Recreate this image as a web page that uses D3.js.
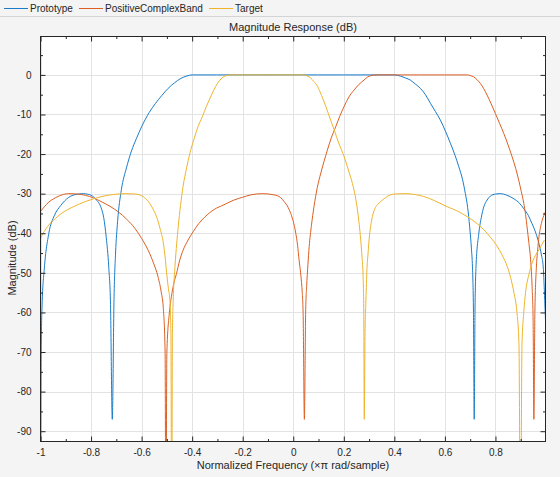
<!DOCTYPE html>
<html>
<head>
<meta charset="utf-8">
<script src="https://cdn.jsdelivr.net/npm/d3@7"></script>
<style>
  body { margin: 0; background: #f4f4f4; }
  svg { display: block; font-family: "Liberation Sans", Arial, Helvetica, sans-serif; }
</style>
</head>
<body>
<svg id="chart" width="560" height="477"></svg>
<script>
// [normalized frequency (x pi rad/sample), magnitude dB]
var prototype = [
  [-1.000, -120], [-0.997, -68], [-0.993, -57], [-0.985, -49], [-0.967, -40],
  [-0.945, -35.5], [-0.920, -33], [-0.890, -31], [-0.860, -30.2], [-0.830, -30],
  [-0.800, -30.4], [-0.780, -31.5], [-0.760, -33.6], [-0.750, -36], [-0.740, -41],
  [-0.730, -48.5], [-0.723, -58], [-0.716, -87], [-0.709, -56], [-0.703, -45],
  [-0.695, -37], [-0.680, -29], [-0.660, -23.5], [-0.640, -19.2], [-0.620, -16],
  [-0.600, -13.1], [-0.570, -9.5], [-0.545, -7.2], [-0.520, -5.2], [-0.495, -3.4],
  [-0.470, -2], [-0.445, -0.9], [-0.420, -0.25], [-0.400, 0], [-0.300, 0],
  [-0.200, 0], [-0.100, 0], [0.000, 0], [0.100, 0], [0.200, 0], [0.300, 0],
  [0.400, 0], [0.424, -0.3], [0.445, -0.8], [0.463, -1.3], [0.483, -2.3],
  [0.503, -3.4], [0.523, -5], [0.543, -7.2], [0.562, -9.2], [0.582, -11.4],
  [0.602, -14.2], [0.622, -17.3], [0.640, -20.3], [0.655, -23.2], [0.670, -26.5],
  [0.681, -30], [0.690, -33.5], [0.698, -38.4], [0.705, -44], [0.709, -48.5],
  [0.713, -60], [0.716, -87], [0.719, -60], [0.723, -48.5], [0.734, -40.1],
  [0.744, -36], [0.754, -33.3], [0.767, -31.6], [0.780, -30.6], [0.800, -30.1],
  [0.820, -30], [0.845, -30.4], [0.873, -31.3], [0.895, -32.4], [0.912, -33.8],
  [0.930, -35.5], [0.945, -37.6], [0.960, -40], [0.972, -42.6], [0.982, -45.5],
  [0.989, -48.5], [0.995, -57], [0.998, -62]
];

var positiveComplexBand = [
  [-1.000, -34.5], [-0.970, -32.3], [-0.940, -31], [-0.910, -30.2], [-0.888, -30],
  [-0.855, -30.1], [-0.823, -30.4], [-0.790, -31.1], [-0.757, -32.1], [-0.725, -33.2],
  [-0.692, -34.6], [-0.660, -36.4], [-0.626, -38.8], [-0.600, -41.3], [-0.574, -44.3],
  [-0.553, -47.5], [-0.535, -51], [-0.522, -55], [-0.514, -59], [-0.507, -70],
  [-0.504, -120], [-0.500, -70], [-0.490, -60], [-0.482, -56], [-0.472, -52.5],
  [-0.462, -50.2], [-0.450, -47], [-0.436, -44.3], [-0.416, -41.7], [-0.396, -39.6],
  [-0.373, -37.5], [-0.350, -35.9], [-0.313, -34], [-0.274, -32.8], [-0.234, -31.6],
  [-0.200, -30.9], [-0.168, -30.3], [-0.122, -30], [-0.076, -30.3], [-0.050, -31],
  [-0.036, -32], [-0.020, -33.5], [-0.010, -35], [0.000, -37], [0.010, -40],
  [0.017, -43], [0.023, -46.7], [0.029, -50], [0.034, -53.5], [0.039, -60],
  [0.044, -87], [0.049, -60], [0.053, -53.5], [0.058, -48], [0.063, -43.4],
  [0.072, -38], [0.082, -33.3], [0.095, -28.5], [0.109, -24.8], [0.122, -21.8],
  [0.135, -19], [0.150, -16], [0.168, -13.1], [0.185, -10.3], [0.201, -8],
  [0.220, -5.6], [0.241, -3.8], [0.260, -2.4], [0.280, -1.3], [0.295, -0.5],
  [0.307, -0.2], [0.330, 0], [0.400, 0], [0.500, 0], [0.600, 0], [0.688, 0],
  [0.700, -0.15], [0.714, -0.5], [0.727, -1.2], [0.741, -2.2], [0.754, -3.5],
  [0.767, -5.1], [0.783, -7.3], [0.800, -9.8], [0.816, -12.2], [0.833, -14.8],
  [0.850, -17.7], [0.866, -20.7], [0.880, -23.6], [0.892, -26.6], [0.902, -29.4],
  [0.912, -32.4], [0.919, -35.2], [0.925, -38.4], [0.932, -42.3], [0.939, -46.7],
  [0.945, -53.5], [0.949, -62], [0.952, -87], [0.956, -60], [0.962, -48.5],
  [0.967, -44.2], [0.972, -40.9], [0.978, -38.6], [0.985, -36.7], [0.991, -35.6],
  [0.998, -34.6]
];

var target = [
  [-1.000, -41.3], [-0.985, -39.5], [-0.967, -37.9], [-0.940, -36.2], [-0.915, -34.9],
  [-0.870, -33.3], [-0.823, -32], [-0.790, -31.3], [-0.757, -30.7], [-0.710, -30.2],
  [-0.665, -30], [-0.635, -30.05], [-0.613, -30.2], [-0.593, -30.8], [-0.574, -31.9],
  [-0.557, -33.6], [-0.541, -35.8], [-0.527, -38.8], [-0.514, -42.5], [-0.507, -46],
  [-0.501, -50], [-0.494, -54], [-0.488, -57], [-0.484, -65], [-0.481, -120],
  [-0.478, -65], [-0.475, -57], [-0.468, -48.4], [-0.461, -42.5], [-0.455, -38.3],
  [-0.446, -33], [-0.436, -28.2], [-0.422, -23.5], [-0.409, -19.8], [-0.393, -16.3],
  [-0.377, -13.1], [-0.360, -10.6], [-0.344, -8], [-0.325, -5.3], [-0.307, -2.9],
  [-0.290, -1.3], [-0.274, -0.4], [-0.260, -0.1], [-0.247, 0], [-0.200, 0],
  [-0.100, 0], [0.000, 0], [0.043, 0], [0.056, -0.3], [0.069, -0.8], [0.082, -1.7],
  [0.096, -2.9], [0.112, -5.2], [0.129, -8], [0.145, -10.9], [0.162, -13.9],
  [0.180, -17.2], [0.201, -20.6], [0.218, -24], [0.234, -27.4], [0.245, -30.5],
  [0.254, -34.1], [0.261, -37.8], [0.267, -41.7], [0.272, -46], [0.276, -50.1],
  [0.279, -60], [0.281, -87], [0.284, -65], [0.287, -58], [0.291, -50],
  [0.296, -45], [0.300, -41.7], [0.306, -38.3], [0.313, -35.8], [0.323, -33.8],
  [0.333, -32.8], [0.346, -32], [0.365, -31], [0.384, -30.3], [0.410, -30.05],
  [0.444, -30], [0.480, -30.2], [0.516, -30.7], [0.560, -31.8], [0.609, -33.3],
  [0.650, -34.4], [0.688, -35.8], [0.720, -37.2], [0.754, -39.1], [0.780, -41],
  [0.807, -43.3], [0.828, -45.7], [0.846, -48.3], [0.860, -51.2], [0.873, -55],
  [0.885, -60], [0.893, -68], [0.899, -120], [0.905, -68], [0.912, -60],
  [0.919, -55], [0.932, -50.5], [0.945, -47.5], [0.958, -45.6], [0.972, -44.2],
  [0.984, -42.8], [0.994, -41.7]
];

var seriesNames = ["Prototype", "PositiveComplexBand", "Target"];
var seriesColors = ["#1a7cc9", "#dc5f22", "#eeb42c"];
var xTicks = [-1, -0.8, -0.6, -0.4, -0.2, 0, 0.2, 0.4, 0.6, 0.8];
var xMinorTicks = [-0.9, -0.7, -0.5, -0.3, -0.1, 0.1, 0.3, 0.5, 0.7, 0.9];
var yTicks = [-90, -80, -70, -60, -50, -40, -30, -20, -10, 0];
var yMinorTicks = [-85, -75, -65, -55, -45, -35, -25, -15, -5, 5];

var svg = d3.select("#chart");
var plot = { left: 40.5, right: 545.5, top: 36.5, bottom: 441.5 };

var x = d3.scaleLinear().domain([-1, 0.998]).range([plot.left, plot.right]);
var y = d3.scaleLinear().domain([-92.6, 9.7]).range([plot.bottom, plot.top]);

// figure background + legend strip
svg.append("rect").attr("width", 560).attr("height", 477).attr("fill", "#f4f4f4");
svg.append("line")
    .attr("x1", 0).attr("x2", 560).attr("y1", 16.5).attr("y2", 16.5)
    .attr("stroke", "#d4d4d4");

svg.append("rect")
    .attr("x", plot.left).attr("y", plot.top)
    .attr("width", plot.right - plot.left).attr("height", plot.bottom - plot.top)
    .attr("fill", "#fff");

// grid
var grid = svg.append("g").attr("stroke", "#e3e3e3").attr("stroke-width", 1);
grid.selectAll(".vg").data(xTicks).enter().append("line")
    .attr("x1", function(d) { return Math.round(x(d)) + 0.5; })
    .attr("x2", function(d) { return Math.round(x(d)) + 0.5; })
    .attr("y1", plot.top).attr("y2", plot.bottom);
grid.selectAll(".hg").data(yTicks).enter().append("line")
    .attr("y1", function(d) { return Math.round(y(d)) + 0.5; })
    .attr("y2", function(d) { return Math.round(y(d)) + 0.5; })
    .attr("x1", plot.left).attr("x2", plot.right);

// curves
svg.append("clipPath").attr("id", "clip").append("rect")
    .attr("x", plot.left).attr("y", plot.top)
    .attr("width", plot.right - plot.left).attr("height", plot.bottom - plot.top);

var line = d3.line()
    .x(function(d) { return x(d[0]); })
    .y(function(d) { return y(d[1]); })
    .curve(d3.curveMonotoneX);

var curves = svg.append("g").attr("clip-path", "url(#clip)");
[prototype, positiveComplexBand, target].forEach(function(data, i) {
  curves.append("path")
      .datum(data)
      .attr("fill", "none")
      .attr("stroke", seriesColors[i])
      .attr("stroke-width", 1)
      .attr("d", line);
});

// axes (box with inward ticks on all sides), plain hyphen minus like the original
function tickFormat(d) { return String(d); }
var axisColor = "#262626";

function styleAxis(g) {
  g.select(".domain").remove();
  g.selectAll(".tick line").attr("stroke", axisColor);
  g.selectAll(".tick text").attr("fill", axisColor).attr("font-size", 10);
}

svg.append("g")
    .attr("transform", "translate(0," + plot.bottom + ")")
    .call(d3.axisBottom(x).tickValues(xTicks).tickSizeInner(-5).tickPadding(7).tickFormat(tickFormat))
    .call(styleAxis);
svg.append("g")
    .attr("transform", "translate(0," + plot.bottom + ")")
    .call(d3.axisBottom(x).tickValues(xMinorTicks).tickSizeInner(-2.5).tickFormat(""))
    .call(styleAxis);
svg.append("g")
    .attr("transform", "translate(0," + plot.top + ")")
    .call(d3.axisTop(x).tickValues(xTicks).tickSizeInner(-5).tickFormat(""))
    .call(styleAxis);
svg.append("g")
    .attr("transform", "translate(0," + plot.top + ")")
    .call(d3.axisTop(x).tickValues(xMinorTicks).tickSizeInner(-2.5).tickFormat(""))
    .call(styleAxis);
svg.append("g")
    .attr("transform", "translate(" + plot.left + ",0)")
    .call(d3.axisLeft(y).tickValues(yTicks).tickSizeInner(-5).tickPadding(9).tickFormat(tickFormat))
    .call(styleAxis);
svg.append("g")
    .attr("transform", "translate(" + plot.left + ",0)")
    .call(d3.axisLeft(y).tickValues(yMinorTicks).tickSizeInner(-2.5).tickFormat(""))
    .call(styleAxis);
svg.append("g")
    .attr("transform", "translate(" + plot.right + ",0)")
    .call(d3.axisRight(y).tickValues(yTicks).tickSizeInner(-5).tickFormat(""))
    .call(styleAxis);
svg.append("g")
    .attr("transform", "translate(" + plot.right + ",0)")
    .call(d3.axisRight(y).tickValues(yMinorTicks).tickSizeInner(-2.5).tickFormat(""))
    .call(styleAxis);

svg.append("rect")
    .attr("x", plot.left).attr("y", plot.top)
    .attr("width", plot.right - plot.left).attr("height", plot.bottom - plot.top)
    .attr("fill", "none").attr("stroke", axisColor).attr("stroke-width", 1);

// titles
svg.append("text")
    .attr("x", (plot.left + plot.right) / 2).attr("y", 31)
    .attr("text-anchor", "middle").attr("font-size", 11).attr("fill", axisColor)
    .text("Magnitude Response (dB)");
svg.append("text")
    .attr("x", (plot.left + plot.right) / 2).attr("y", 469)
    .attr("text-anchor", "middle").attr("font-size", 11).attr("fill", axisColor)
    .text("Normalized Frequency (\u00d7\u03c0 rad/sample)");
svg.append("text")
    .attr("transform", "translate(16,258) rotate(-90)")
    .attr("text-anchor", "middle").attr("font-size", 11).attr("fill", axisColor)
    .text("Magnitude (dB)");

// legend
var legendX = [4, 79, 209];
var legend = svg.append("g");
seriesNames.forEach(function(name, i) {
  legend.append("line")
      .attr("x1", legendX[i]).attr("x2", legendX[i] + 24)
      .attr("y1", 8.5).attr("y2", 8.5)
      .attr("stroke", seriesColors[i]).attr("stroke-width", 1);
  legend.append("text")
      .attr("x", legendX[i] + 26).attr("y", 12)
      .attr("font-size", 10).attr("fill", axisColor)
      .text(name);
});
</script>
</body>
</html>
